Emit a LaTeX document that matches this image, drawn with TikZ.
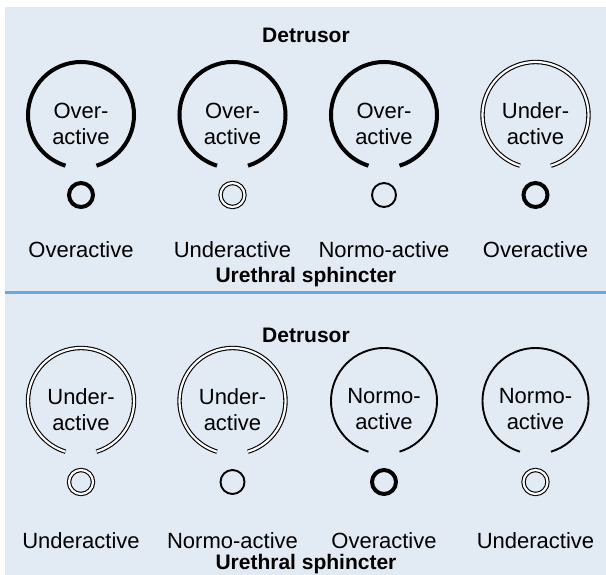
\documentclass[tikz,border=0pt]{standalone}
\usepackage{fontspec}
\setmainfont{Liberation Sans}
\usetikzlibrary{positioning}

\definecolor{panel}{HTML}{E2EAF4}
\definecolor{rule}{HTML}{6AA7DC}

\tikzset{
  over/.style={line width=4pt},
  under/.style={double,double distance=2.2pt,line width=1.1pt},
  normo/.style={line width=1.9pt},
  sph/.style={circle,minimum size=24pt,inner sep=0pt},
  txt/.style={font=\fontsize{22}{26}\selectfont,align=center,inner sep=0pt},
  head/.style={font=\fontsize{21}{25}\selectfont\bfseries,inner sep=0pt}
}

\begin{document}
\begin{tikzpicture}[x=1pt,y=-1pt]
\useasboundingbox (0,0) rectangle (606,575);
\fill[panel] (5,7) rectangle (606,575);
\draw[rule,line width=3pt] (5,293) -- (606,293);

% top panel
\node[head] (det1) at (306,35) {Detrusor};
\foreach \dm/\um/\dtxt/\utxt [count=\n] in {over/over/Over-/Overactive,over/under/Over-/Underactive,over/normo/Over-/Normo-active,under/over/Under-/Overactive}{
  \coordinate (C\n) at ({151.5*\n-70.5},115);
  \draw[\dm] (C\n) ++(-73:53pt) arc[start angle=-73,end angle=253,radius=53pt];
  \node[txt] (T\n) at ({151.5*\n-70.5},123.5) {\dtxt\\active};
  \node[sph,draw,\um] (S\n) at ({151.5*\n-70.5},195) {};
  \node[txt,anchor=base] (L\n) at ({151.5*\n-70.5},258) {\utxt};
}
\node[head,anchor=base] (ure1) at (306,283) {Urethral sphincter};

% bottom panel
\node[head] (det2) at (306,335) {Detrusor};
\foreach \dm/\um/\dtxt/\utxt [count=\n from 5] in {under/under/Under-/Underactive,under/normo/Under-/Normo-active,normo/over/Normo-/Overactive,normo/under/Normo-/Underactive}{
  \coordinate (C\n) at ({151.5*\n-676.5},401);
  \draw[\dm] (C\n) ++(-73:53pt) arc[start angle=-73,end angle=253,radius=53pt];
  \node[txt] (T\n) at ({151.5*\n-676.5},409.5) {\dtxt\\active};
  \node[sph,draw,\um] (S\n) at ({151.5*\n-676.5},482) {};
  \node[txt,anchor=base] (L\n) at ({151.5*\n-676.5},548) {\utxt};
}
\node[head,anchor=base] (ure2) at (306,569.5) {Urethral sphincter};
\end{tikzpicture}
\end{document}
